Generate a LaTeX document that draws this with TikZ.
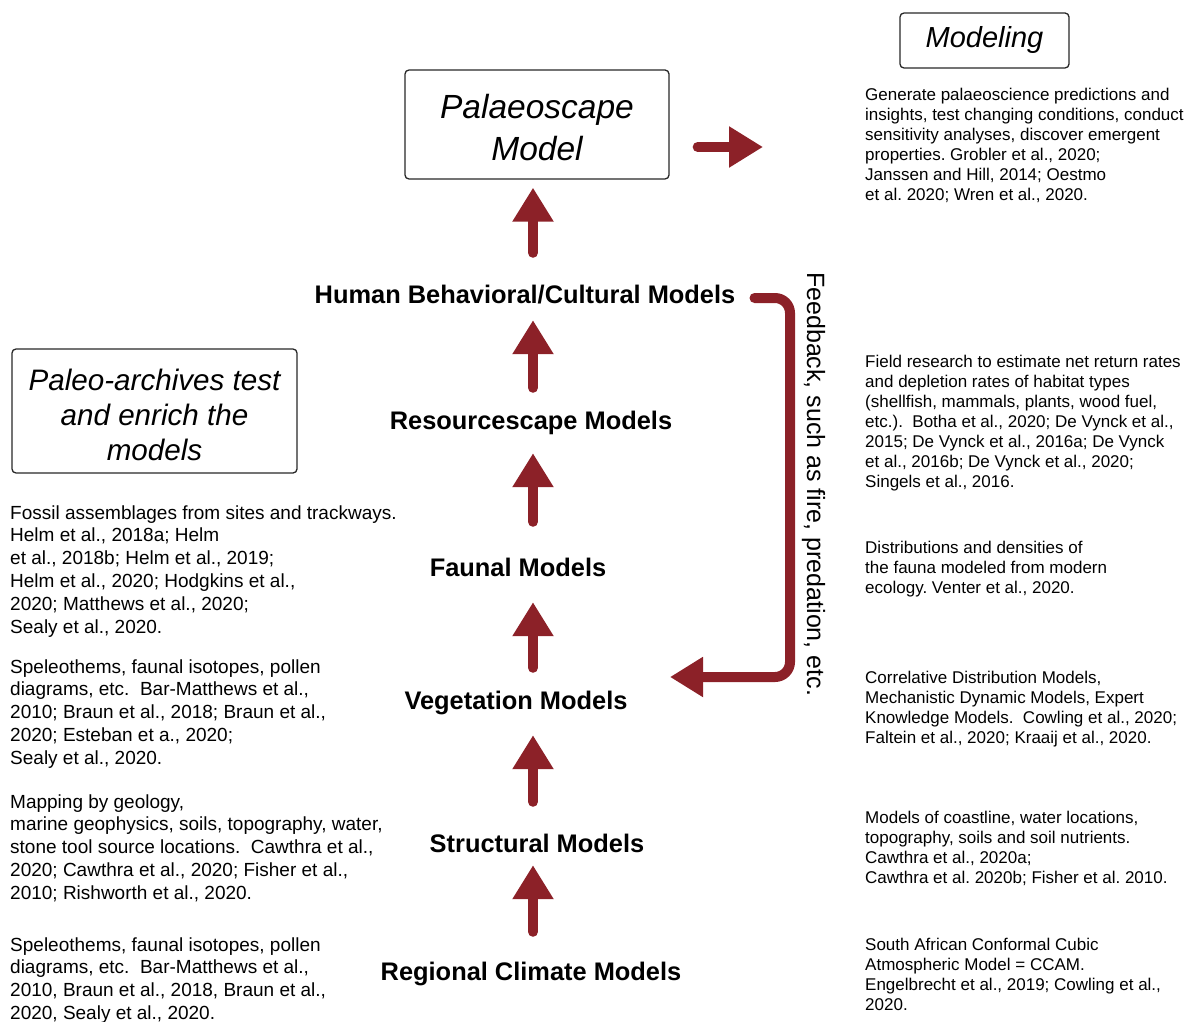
\documentclass[tikz,border=0pt]{standalone}
\usepackage{fontspec}
\setmainfont{Liberation Sans}
\usetikzlibrary{arrows.meta}
\definecolor{arrred}{RGB}{140,33,40}
\definecolor{boxline}{RGB}{40,40,40}
\frenchspacing
\begin{document}
\begin{tikzpicture}[x=1pt,y=-1pt,
  lbl/.style={font=\fontsize{25.4}{30}\selectfont\bfseries, inner sep=0pt, text height=19pt, text depth=5pt, anchor=base},
  rtxt/.style={font=\fontsize{17}{20}\selectfont, align=left, inner sep=0pt, anchor=north west},
  ltxt/.style={font=\fontsize{19}{22.8}\selectfont, align=left, inner sep=0pt, anchor=north west},
  ibox/.style={draw=boxline, line width=1.3pt, rounded corners=4pt, align=center, inner sep=0pt},
  uparr/.style={draw=arrred, line width=10pt, line cap=round, -{Triangle[width=39pt,length=34pt]}},
  fbarr/.style={draw=arrred, line width=10pt, line cap=round, rounded corners=15pt, -{Triangle[width=38pt,length=33pt]}},
]
\useasboundingbox (0,0) rectangle (1192,1022);

% boxes
\node[ibox, minimum width=264pt, minimum height=109pt, font=\fontsize{33.5}{42}\selectfont\itshape] (pal) at (537,124.5) {\rule{0pt}{30pt}Palaeoscape\\Model};
\node[ibox, minimum width=169pt, minimum height=55pt, font=\fontsize{29}{35}\selectfont\itshape] (mod) at (984.5,40.5) {Modeling};
\node[ibox, minimum width=285pt, minimum height=124pt, font=\fontsize{29.6}{35}\selectfont\itshape] (arc) at (154.5,411) {\rule{0pt}{29pt}Paleo-archives test\\and enrich the\\models};

% model labels
\node[lbl] (hum) at (525,303) {Human Behavioral/Cultural Models};
\node[lbl] (res) at (531,429) {Resourcescape Models};
\node[lbl] (fau) at (518,576) {Faunal Models};
\node[lbl] (veg) at (516,709) {Vegetation Models};
\node[lbl] (str) at (537,852) {Structural Models};
\node[lbl] (reg) at (531,980) {Regional Climate Models};

% feedback text
\node[font=\fontsize{25}{30}\selectfont, rotate=-90, anchor=base west, inner sep=0pt] (fbt) at (807,272) {Feedback, such as fire, predation, etc.};

% right column
\node[rtxt] (t1) at (865,86) {\strut Generate palaeoscience predictions and\\insights, test changing conditions, conduct\\sensitivity analyses, discover emergent\\properties. Grobler et al., 2020;\\Janssen and Hill, 2014; Oestmo\\et al. 2020; Wren et al., 2020.};
\node[rtxt] (t2) at (865,353) {\strut Field research to estimate net return rates\\and depletion rates of habitat types\\(shellfish, mammals, plants, wood fuel,\\etc.).\ \ Botha et al., 2020; De Vynck et al.,\\2015; De Vynck et al., 2016a; De Vynck\\et al., 2016b; De Vynck et al., 2020;\\Singels et al., 2016.};
\node[rtxt] (t3) at (865,539) {\strut Distributions and densities of\\the fauna modeled from modern\\ecology. Venter et al., 2020.};
\node[rtxt] (t4) at (865,669) {\strut Correlative Distribution Models,\\Mechanistic Dynamic Models, Expert\\Knowledge Models.\ \ Cowling et al., 2020;\\Faltein et al., 2020; Kraaij et al., 2020.};
\node[rtxt] (t5) at (865,809) {\strut Models of coastline, water locations,\\topography, soils and soil nutrients.\\Cawthra et al., 2020a;\\Cawthra et al. 2020b; Fisher et al. 2010.};
\node[rtxt] (t6) at (865,936) {\strut South African Conformal Cubic\\Atmospheric Model = CCAM.\\Engelbrecht et al., 2019; Cowling et al.,\\2020.};

% left column
\node[ltxt] (l1) at (10,503) {\strut Fossil assemblages from sites and trackways.\\Helm et al., 2018a; Helm\\et al., 2018b; Helm et al., 2019;\\Helm et al., 2020; Hodgkins et al.,\\2020; Matthews et al., 2020;\\Sealy et al., 2020.};
\node[ltxt] (l2) at (10,657) {\strut Speleothems, faunal isotopes, pollen\\diagrams, etc.\ \ Bar-Matthews et al.,\\2010; Braun et al., 2018; Braun et al.,\\2020; Esteban et a., 2020;\\Sealy et al., 2020.};
\node[ltxt] (l3) at (10,792) {\strut Mapping by geology,\\marine geophysics, soils, topography, water,\\stone tool source locations.\ \ Cawthra et al.,\\2020; Cawthra et al., 2020; Fisher et al.,\\2010; Rishworth et al., 2020.};
\node[ltxt] (l4) at (10,935) {\strut Speleothems, faunal isotopes, pollen\\diagrams, etc.\ \ Bar-Matthews et al.,\\2010, Braun et al., 2018, Braun et al.,\\2020, Sealy et al., 2020.};

% arrows
\coordinate (ax) at (533,0);
\draw[uparr, shorten <=29pt, shorten >=8pt] (reg.north -| ax) -- (str.south -| ax);
\draw[uparr, shorten <=31pt, shorten >=21pt] (str.north -| ax) -- (veg.south -| ax);
\draw[uparr, shorten <=22pt, shorten >=21pt] (veg.north -| ax) -- (fau.south -| ax);
\draw[uparr, shorten <=35pt, shorten >=19pt] (fau.north -| ax) -- (res.south -| ax);
\draw[uparr, shorten <=22pt, shorten >=12pt] (res.north -| ax) -- (hum.south -| ax);
\draw[uparr, shorten <=31pt, shorten >=8pt] (hum.north -| ax) -- (pal.south -| ax);

\coordinate (mtip) at (763,147);
\draw[uparr, shorten <=28pt] (pal.east |- mtip) -- (mtip);

\coordinate (fbc) at (790,298);
\coordinate (fbe) at (670,677);
\draw[fbarr] ([xshift=19pt]hum.east |- fbc) -- (fbc) -- (fbc |- fbe) -- (fbe);
\end{tikzpicture}
\end{document}
